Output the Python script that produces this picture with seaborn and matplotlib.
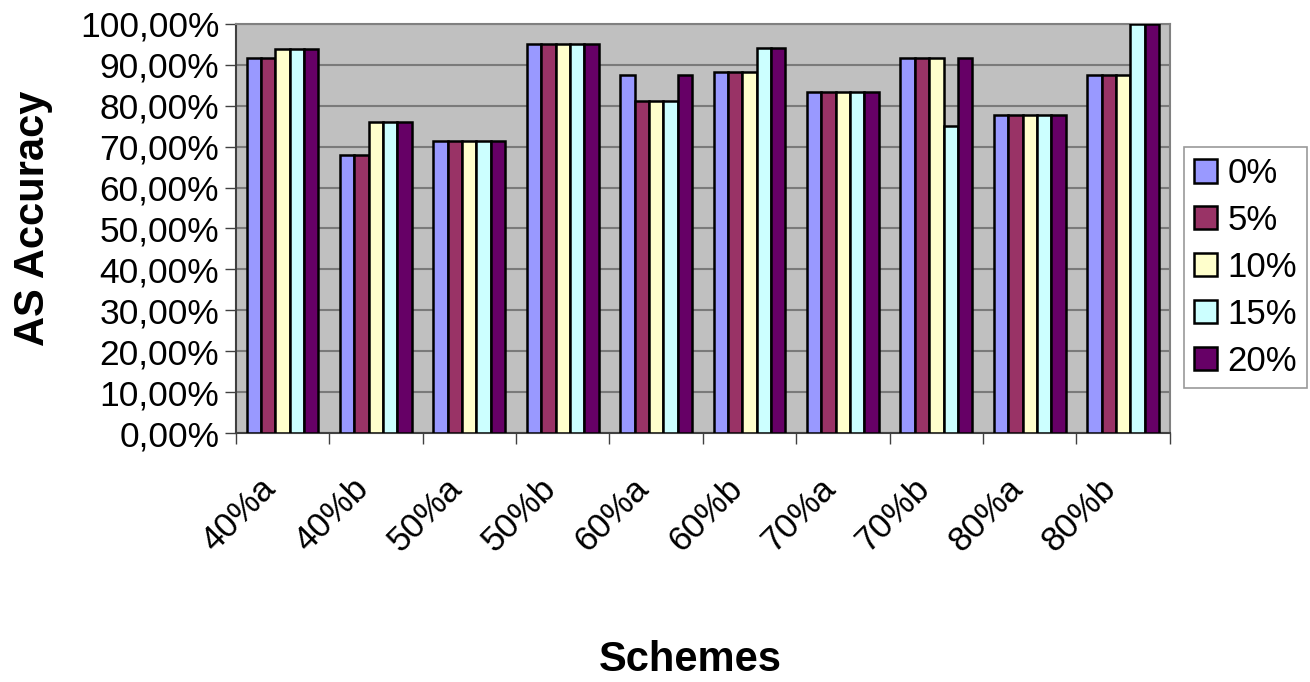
import numpy as np
import pandas as pd
import matplotlib
matplotlib.use("Agg")
import matplotlib.pyplot as plt
import matplotlib.transforms as mtransforms
import seaborn as sns
from matplotlib.ticker import FuncFormatter

# data
schemes = ["40%a", "40%b", "50%a", "50%b", "60%a", "60%b", "70%a", "70%b", "80%a", "80%b"]
noise_levels = ["0%", "5%", "10%", "15%", "20%"]
acc_0 = [91.67, 68.00, 71.43, 95.00, 87.50, 88.24, 83.33, 91.67, 77.78, 87.50]
acc_5 = [91.67, 68.00, 71.43, 95.00, 81.25, 88.24, 83.33, 91.67, 77.78, 87.50]
acc_10 = [93.75, 76.00, 71.43, 95.00, 81.25, 88.24, 83.33, 91.67, 77.78, 87.50]
acc_15 = [93.75, 76.00, 71.43, 95.00, 81.25, 94.12, 83.33, 75.00, 77.78, 100.00]
acc_20 = [93.75, 76.00, 71.43, 95.00, 87.50, 94.12, 83.33, 91.67, 77.78, 100.00]
bar_colors = ["#9999FF", "#993366", "#FFFFCC", "#CCFFFF", "#660066"]

series = [acc_0, acc_5, acc_10, acc_15, acc_20]
rows = []
for lvl, vals in zip(noise_levels, series):
    for s, v in zip(schemes, vals):
        rows.append({"Scheme": s, "Noise": lvl, "Accuracy": v})
df = pd.DataFrame(rows)

sns.set_style("white")
plt.rcParams["font.family"] = ["Liberation Sans", "DejaVu Sans"]
plt.rcParams["text.color"] = "black"
plt.rcParams["axes.labelcolor"] = "black"
plt.rcParams["xtick.color"] = "black"
plt.rcParams["ytick.color"] = "black"

fig = plt.figure(figsize=(13.1, 6.82), dpi=100)
ax = fig.add_axes([0.180, 0.365, 0.713, 0.600])

sns.barplot(data=df, x="Scheme", y="Accuracy", hue="Noise", order=schemes,
            hue_order=noise_levels, palette=bar_colors, saturation=1, width=0.77,
            edgecolor="black", linewidth=1.8, ax=ax, zorder=3)

ax.set_facecolor("#C0C0C0")
ax.set_ylim(0, 100)
ax.set_xlim(-0.5, len(schemes) - 0.5)
ax.set_yticks(np.arange(0, 101, 10))
ax.yaxis.set_major_formatter(FuncFormatter(lambda v, p: f"{v:.2f}".replace(".", ",") + "%"))
ax.yaxis.grid(True, color="#7a7a7a", linewidth=1.5, zorder=0)
ax.set_axisbelow(True)

ax.tick_params(axis="y", labelsize=25.5, length=8, width=1, color="#404040", direction="out", left=True, pad=4)
ax.tick_params(axis="x", labelsize=25, length=0, pad=28)
ax.set_xticks(np.arange(-0.5, len(schemes), 1), minor=True)
ax.tick_params(axis="x", which="minor", length=8, width=1, color="#404040", bottom=True)
shift = mtransforms.ScaledTranslation(-24 / 100, 0, fig.dpi_scale_trans)
for lbl in ax.get_xticklabels():
    lbl.set_rotation(45)
    lbl.set_ha("right")
    lbl.set_rotation_mode("anchor")
    lbl.set_transform(lbl.get_transform() + shift)

for side in ["top", "right"]:
    ax.spines[side].set_color("#808080")
    ax.spines[side].set_linewidth(1.5)
ax.spines["left"].set_color("#404040")
ax.spines["bottom"].set_color("#404040")
ax.spines["left"].set_linewidth(1.5)
ax.spines["bottom"].set_linewidth(1.5)

ax.set_xlabel("")
ax.set_ylabel("AS Accuracy", fontsize=30, fontweight="bold")
ax.yaxis.set_label_coords(-0.196, 0.525)
fig.text(0.527, 1 - 660 / 682, "Schemes", fontsize=30, fontweight="bold",
         ha="center", va="center")

leg = ax.legend(loc="center right", bbox_to_anchor=(0.998, 0.608),
                bbox_transform=fig.transFigure, fontsize=25,
                frameon=True, fancybox=False, edgecolor="#808080",
                handlelength=0.66, handleheight=0.66, handletextpad=0.3,
                labelspacing=0.4, borderpad=0.3, borderaxespad=0)
leg.get_frame().set_linewidth(1.2)

fig.savefig("out.png", dpi=100, facecolor="white")
